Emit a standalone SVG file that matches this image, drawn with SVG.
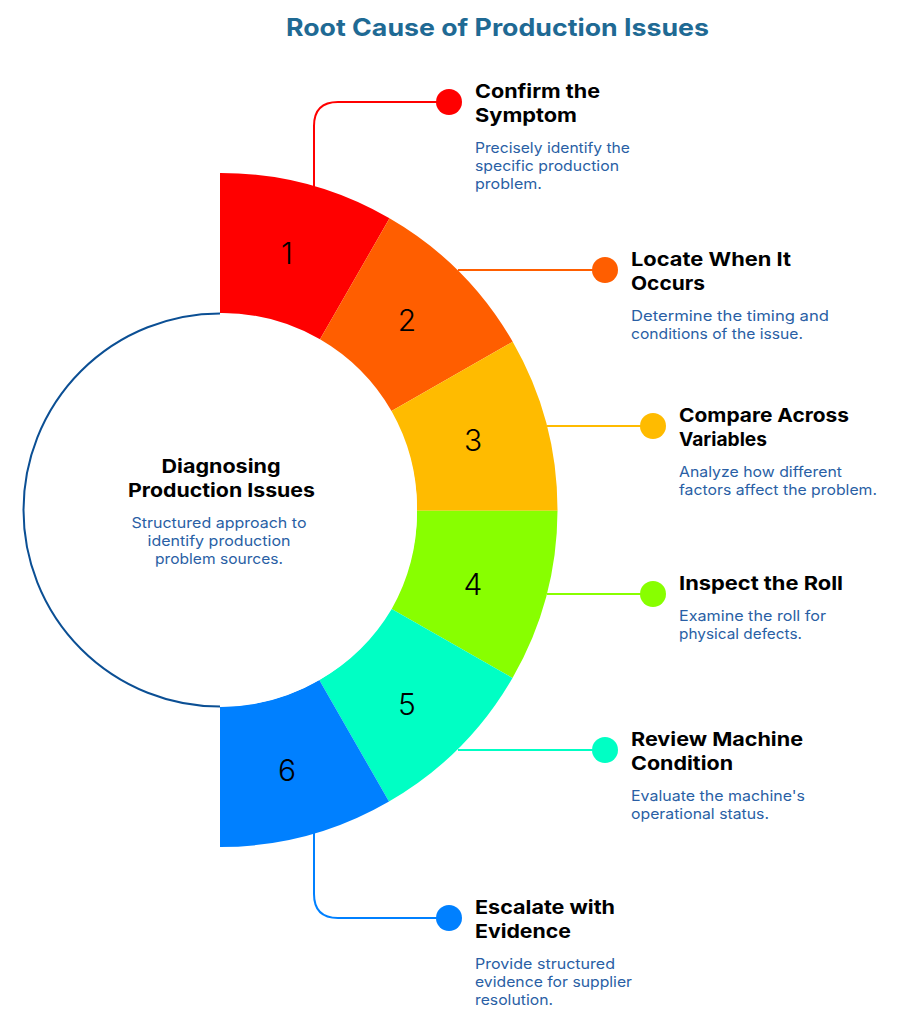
<svg xmlns="http://www.w3.org/2000/svg" width="904" height="1016" viewBox="0 0 904 1016">
<style>
text{font-family:"Inter","Noto Sans","Liberation Sans",sans-serif}
.t{font-size:19px;font-weight:700;fill:#000}
.d{font-size:14.5px;fill:#2a5fa5}
.n{font-size:30px;font-weight:300;fill:#000;text-anchor:middle;dominant-baseline:central}
.c{text-anchor:middle}
.l{fill:none;stroke-width:2}
</style>
<rect width="904" height="1016" fill="#fff"/>
<text x="497.500" y="35.500" class="c" textLength="423" lengthAdjust="spacingAndGlyphs" style="font-size:24px;font-weight:700;fill:#1f6a94">Root Cause of Production Issues</text>
<g id="connectors">
<path class="l" stroke="#ff0000" d="M314 187V126Q314 102 338 102H449"/>
<path class="l" stroke="#ff5e00" d="M458 270H605"/>
<path class="l" stroke="#ffbb00" d="M547 426H653"/>
<path class="l" stroke="#88ff00" d="M547 594H653"/>
<path class="l" stroke="#00ffc4" d="M458 750H605"/>
<path class="l" stroke="#0080ff" d="M314 833V894Q314 918 338 918H449"/>
</g>
<g id="node-1"><path fill="#ff0000" d="M220 173A337 337 0 0 1 389.500 218.300L320 339.300A197 197 0 0 0 220 313Z"/><text x="287" y="253" class="n">1</text><circle cx="449" cy="102" r="13" fill="#ff0000"/>
<text x="475" y="98" class="t" textLength="125" lengthAdjust="spacingAndGlyphs">Confirm the</text><text x="475" y="122" class="t" textLength="102" lengthAdjust="spacingAndGlyphs">Symptom</text>
<text x="475" y="153" class="d" textLength="155" lengthAdjust="spacingAndGlyphs">Precisely identify the</text><text x="475" y="171" class="d" textLength="144" lengthAdjust="spacingAndGlyphs">specific production</text><text x="475" y="189" class="d" textLength="67" lengthAdjust="spacingAndGlyphs">problem.</text></g>
<g id="node-2"><path fill="#ff5e00" d="M389.500 218.300A337 337 0 0 1 512.700 341.700L391.500 411A197 197 0 0 0 320 339.300Z"/><text x="407" y="320" class="n">2</text><circle cx="605" cy="270" r="13" fill="#ff5e00"/>
<text x="631" y="266" class="t" textLength="160" lengthAdjust="spacingAndGlyphs">Locate When It</text><text x="631" y="290" class="t" textLength="74" lengthAdjust="spacingAndGlyphs">Occurs</text>
<text x="631" y="321" class="d" textLength="198" lengthAdjust="spacingAndGlyphs">Determine the timing and</text><text x="631" y="339" class="d" textLength="172" lengthAdjust="spacingAndGlyphs">conditions of the issue.</text></g>
<g id="node-3"><path fill="#ffbb00" d="M512.700 341.700A337 337 0 0 1 557.500 510.700H417A197 197 0 0 0 391.500 411Z"/><text x="473" y="440" class="n">3</text><circle cx="653" cy="426" r="13" fill="#ffbb00"/>
<text x="679" y="422" class="t" textLength="170" lengthAdjust="spacingAndGlyphs">Compare Across</text><text x="679" y="446" class="t" textLength="88" lengthAdjust="spacingAndGlyphs">Variables</text>
<text x="679" y="477" class="d" textLength="163" lengthAdjust="spacingAndGlyphs">Analyze how different</text><text x="679" y="495" class="d" textLength="198" lengthAdjust="spacingAndGlyphs">factors affect the problem.</text></g>
<g id="node-4"><path fill="#88ff00" d="M557.500 510.700A337 337 0 0 1 512.500 678L391.700 609A197 197 0 0 0 417 510.700Z"/><text x="473" y="584" class="n">4</text><circle cx="653" cy="594" r="13" fill="#88ff00"/>
<text x="679" y="590" class="t" textLength="164" lengthAdjust="spacingAndGlyphs">Inspect the Roll</text>
<text x="679" y="621" class="d" textLength="147" lengthAdjust="spacingAndGlyphs">Examine the roll for</text><text x="679" y="639" class="d" textLength="123" lengthAdjust="spacingAndGlyphs">physical defects.</text></g>
<g id="node-5"><path fill="#00ffc4" d="M512.500 678A337 337 0 0 1 389 801.500L319.300 680A197 197 0 0 0 391.700 609Z"/><text x="407" y="704" class="n">5</text><circle cx="605" cy="750" r="13" fill="#00ffc4"/>
<text x="631" y="746" class="t" textLength="172" lengthAdjust="spacingAndGlyphs">Review Machine</text><text x="631" y="770" class="t" textLength="102" lengthAdjust="spacingAndGlyphs">Condition</text>
<text x="631" y="801" class="d" textLength="174" lengthAdjust="spacingAndGlyphs">Evaluate the machine's</text><text x="631" y="819" class="d" textLength="138" lengthAdjust="spacingAndGlyphs">operational status.</text></g>
<g id="node-6"><path fill="#0080ff" d="M389 801.500A337 337 0 0 1 220 847V707A197 197 0 0 0 319.300 680Z"/><text x="287" y="770" class="n">6</text><circle cx="449" cy="918" r="13" fill="#0080ff"/>
<text x="475" y="914" class="t" textLength="140" lengthAdjust="spacingAndGlyphs">Escalate with</text><text x="475" y="938" class="t" textLength="96" lengthAdjust="spacingAndGlyphs">Evidence</text>
<text x="475" y="969" class="d" textLength="140" lengthAdjust="spacingAndGlyphs">Provide structured</text><text x="475" y="987" class="d" textLength="157" lengthAdjust="spacingAndGlyphs">evidence for supplier</text><text x="475" y="1005" class="d" textLength="78" lengthAdjust="spacingAndGlyphs">resolution.</text></g>
<g id="node-center"><circle cx="220.500" cy="510" r="196.500" fill="#fff"/><path d="M220 313.500A196.500 196.500 0 0 0 220 706.500" fill="none" stroke="#0b4f94" stroke-width="2"/>
<text x="221" y="473" class="t c" textLength="119" lengthAdjust="spacingAndGlyphs">Diagnosing</text><text x="221.500" y="497" class="t c" textLength="187" lengthAdjust="spacingAndGlyphs">Production Issues</text>
<text x="219" y="528" class="d c" textLength="175" lengthAdjust="spacingAndGlyphs">Structured approach to</text><text x="219" y="546" class="d c" textLength="143" lengthAdjust="spacingAndGlyphs">identify production</text><text x="219" y="564" class="d c" textLength="128" lengthAdjust="spacingAndGlyphs">problem sources.</text></g>
</svg>
